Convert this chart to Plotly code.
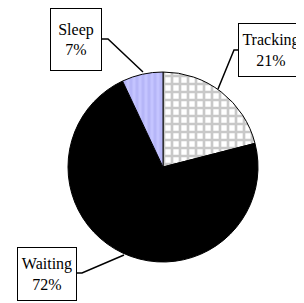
import plotly.graph_objects as go

labels = ["Tracking", "Waiting", "Sleep"]
values = [21, 72, 7]
fill_colors = ["#ffffff", "#000000", "#c4c4ff"]
pattern_shapes = ["+", "", "|"]
pattern_fg = ["#c8c8c8", "#000000", "#b6b6f8"]

# the page body adds an 8px margin, so the figure is 8px smaller than the window
OFF = 8
W, H = 304 - OFF, 303 - OFF


def px(x):
    return (x - OFF) / W


def py(y):
    return 1 - (y - OFF) / H


cx, cy, r = 163, 167, 95
fig = go.Figure(go.Pie(
    labels=labels,
    values=values,
    sort=False,
    direction="clockwise",
    rotation=0,
    textinfo="none",
    hoverinfo="label+percent",
    marker=dict(
        colors=fill_colors,
        line=dict(color="#000000", width=1),
        pattern=dict(shape=pattern_shapes, fgcolor=pattern_fg,
                     bgcolor=fill_colors, size=[8, 8, 6], solidity=[0.55, 0.5, 0.5]),
    ),
    domain=dict(x=[px(cx - r), px(cx + r)], y=[py(cy + r), py(cy - r)]),
    showlegend=False,
))

# label boxes in window pixels: (center x, center y, width, height)
boxes = {
    "Sleep": (76, 40, 52, 63),
    "Tracking": (271, 50, 66, 54),
    "Waiting": (47, 274, 60, 54),
}
# leader lines in window pixels
leaders = {
    "Sleep": [(102, 39), (108, 39), (143, 72)],
    "Tracking": [(238, 50), (234, 50), (218, 89)],
    "Waiting": [(77, 273), (82, 273), (124, 255)],
}

for lab, val in zip(labels, values):
    bx, by, bw, bh = boxes[lab]
    fig.add_annotation(
        x=px(bx), y=py(by), xref="paper", yref="paper",
        xanchor="center", yanchor="middle",
        text=f"{lab}<br>{val}%", showarrow=False,
        font=dict(family="Liberation Serif", size=16, color="#000000"),
        bordercolor="#000000", borderwidth=1, borderpad=0,
        bgcolor="#ffffff", width=bw - 2, height=bh - 2, align="center", valign="middle",
    )
    pts = leaders[lab]
    path = "M " + " L ".join(f"{px(x)},{py(y)}" for x, y in pts)
    fig.add_shape(type="path", path=path, xref="paper", yref="paper",
                  line=dict(color="#000000", width=1.5))

fig.update_layout(
    width=W, height=H,
    margin=dict(l=0, r=0, t=0, b=0),
    paper_bgcolor="#ffffff",
    plot_bgcolor="#ffffff",
)

fig.write_html("out.html")
